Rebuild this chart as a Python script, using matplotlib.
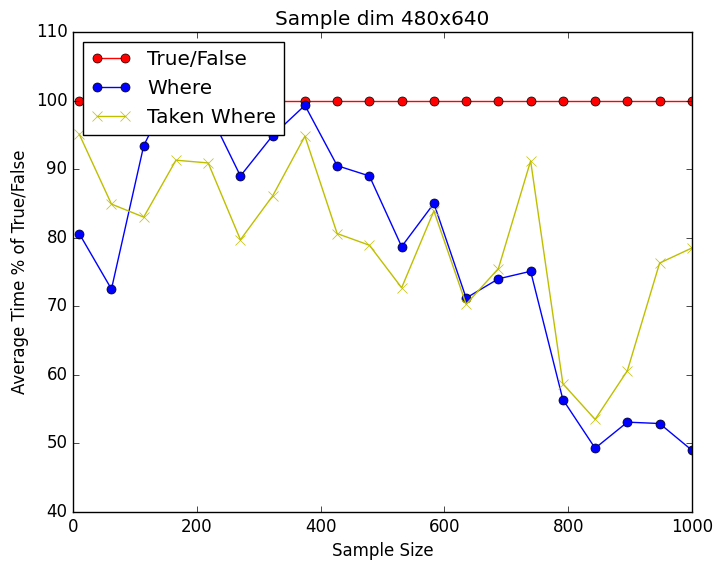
import matplotlib
matplotlib.use('Agg')
import matplotlib.pyplot as plt

plt.style.use('classic')

# sample sizes
sample_size = [10, 62.1, 114.2, 166.3, 218.4, 270.5, 322.6, 374.7, 426.8, 478.9,
               531, 583.1, 635.2, 687.3, 739.4, 791.5, 843.6, 895.7, 947.8, 1000]

# average time as % of True/False
true_false = [100] * 20
where = [80.6, 72.5, 93.4, 103.0, 98.6, 89.0, 94.9, 99.3, 90.5, 89.0,
         78.7, 85.0, 71.2, 74.0, 75.1, 56.4, 49.3, 53.1, 52.9, 49.0]
taken_where = [95.1, 84.9, 83.0, 91.3, 90.9, 79.7, 86.1, 94.8, 80.6, 78.9,
               72.7, 83.9, 70.3, 75.5, 91.2, 58.7, 53.5, 60.6, 76.3, 78.5]

fig = plt.figure(figsize=(7.23, 5.7), dpi=100, facecolor='white')
ax = fig.add_axes([0.101, 0.1018, 0.856, 0.8421])

ax.plot(sample_size, true_false, 'r-o', ms=6.5, label='True/False')
ax.plot(sample_size, where, 'b-o', ms=6.5, label='Where')
ax.plot(sample_size, taken_where, 'y-x', ms=6.5, label='Taken Where')

ax.set_xlim(0, 1000)
ax.set_ylim(40, 110)
ax.set_title('Sample dim 480x640')
ax.set_xlabel('Sample Size')
ax.set_ylabel('Average Time % of True/False')
ax.legend(loc='upper left')

fig.savefig('out.png', dpi=100, facecolor='white')
